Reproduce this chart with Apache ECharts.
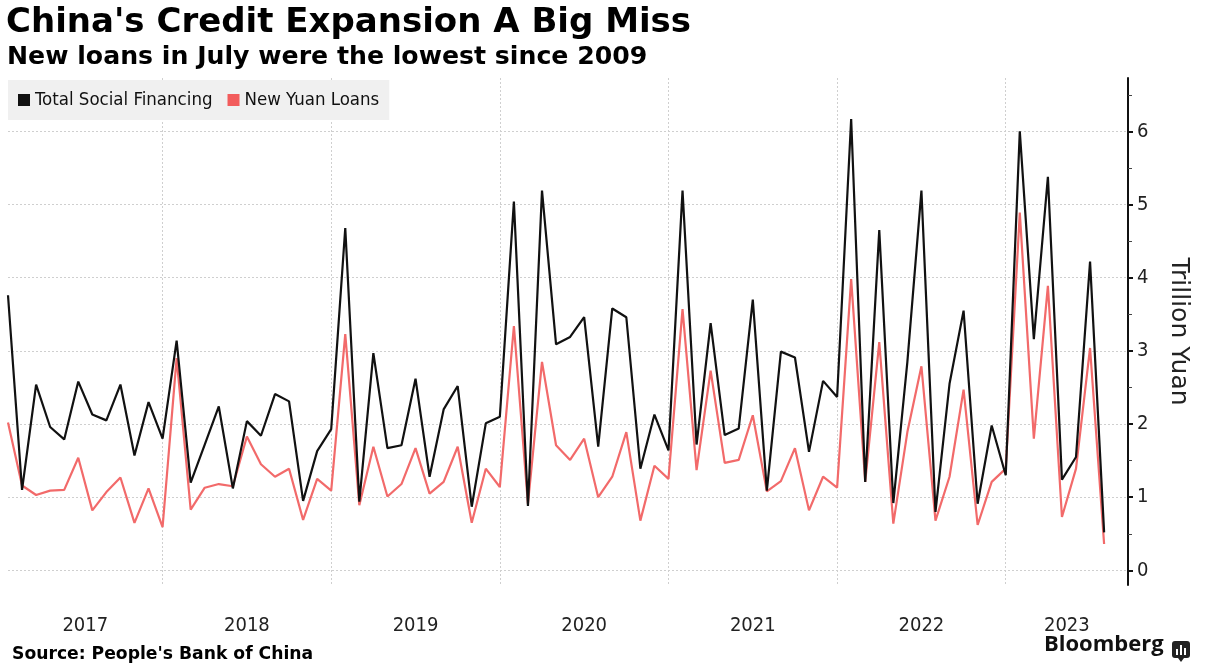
<!DOCTYPE html>
<html><head><meta charset="utf-8">
<script src="https://cdn.jsdelivr.net/npm/echarts@6/dist/echarts.min.js"></script>
<style>html,body{margin:0;padding:0;background:#fff}#c{width:1206px;height:670px}</style>
</head><body><div id="c"></div>
<script>
// ---- data (monthly, Jan 2017 .. Jul 2023), trillion yuan ----
const startYear = 2017;
const years = ['2017','2018','2019','2020','2021','2022','2023'];
const totalSocialFinancing = [
  3.76,1.10,2.54,1.96,1.79,2.58,2.13,2.05,2.54,1.57,2.30,1.80,
  3.14,1.20,1.72,2.24,1.12,2.04,1.84,2.41,2.31,0.95,1.63,1.93,
  4.68,0.94,2.97,1.67,1.71,2.62,1.28,2.20,2.52,0.87,2.01,2.10,
  5.04,0.88,5.19,3.09,3.19,3.46,1.69,3.58,3.46,1.39,2.13,1.64,
  5.19,1.72,3.38,1.85,1.94,3.70,1.09,2.99,2.91,1.62,2.59,2.37,
  6.17,1.21,4.65,0.92,2.85,5.19,0.80,2.55,3.55,0.91,1.98,1.30,
  6.00,3.16,5.38,1.24,1.55,4.22,0.52
];
const newYuanLoans = [
  2.02,1.16,1.03,1.09,1.10,1.54,0.82,1.07,1.27,0.65,1.12,0.59,
  2.90,0.83,1.13,1.18,1.15,1.83,1.45,1.28,1.39,0.69,1.25,1.09,
  3.23,0.89,1.69,1.01,1.18,1.67,1.05,1.21,1.69,0.65,1.39,1.14,
  3.34,0.91,2.85,1.71,1.51,1.80,1.00,1.28,1.89,0.68,1.43,1.25,
  3.57,1.37,2.73,1.47,1.51,2.12,1.08,1.22,1.67,0.82,1.28,1.13,
  3.98,1.21,3.12,0.64,1.89,2.79,0.68,1.28,2.47,0.62,1.21,1.39,
  4.89,1.80,3.89,0.73,1.39,3.04,0.36
];
const yTickValues = [0,1,2,3,4,5,6];
const yMinorTickValues = [0.5,1.5,2.5,3.5,4.5,5.5,6.5];
const seriesNames = ['Total Social Financing','New Yuan Loans'];

// ---- derived ----
const X_MAX = 79.7;
const months = totalSocialFinancing.map((_, i) => (startYear + Math.floor(i / 12)) + '-' + String(i % 12 + 1).padStart(2, '0'));
const yearBoundaries = years.slice(0, -1).map((_, k) => 12 * k + 11);
const yearLabelPos = years.map((_, k) => (Math.max(0, 12 * k - 1) + Math.min(12 * k + 11, X_MAX)) / 2);

const FONT = "'DejaVu Sans Condensed','DejaVu Sans',sans-serif";
const GRID_LEFT = 8, GRID_RIGHT = 78, W = 1206;
const chart = echarts.init(document.getElementById('c'), null, {renderer: 'canvas'});
chart.setOption({
  animation: false,
  backgroundColor: '#fff',
  title: [
    {text: "China's Credit Expansion A Big Miss", left: 6, top: 3, padding: 0,
     textStyle: {fontFamily: 'DejaVu Sans', fontWeight: 'bold', fontSize: 34, lineHeight: 40, color: '#000'}},
    {text: 'New loans in July were the lowest since 2009', left: 7, top: 42, padding: 0,
     textStyle: {fontFamily: 'DejaVu Sans', fontWeight: 'bold', fontSize: 25.2, lineHeight: 30, color: '#000'}},
    {text: "Source: People's Bank of China", left: 12, top: 645, padding: 0,
     textStyle: {fontFamily: 'DejaVu Sans', fontWeight: 'bold', fontSize: 17.2, lineHeight: 20, color: '#000'}}
  ],
  legend: {
    data: seriesNames, left: 8, top: 80, orient: 'horizontal',
    backgroundColor: '#f0f0f0', padding: [10, 10, 10, 10],
    icon: 'rect', itemWidth: 12, itemHeight: 12, itemGap: 15,
    textStyle: {fontFamily: FONT, fontSize: 18.5, lineHeight: 20, color: '#111'}
  },
  grid: {left: GRID_LEFT, right: GRID_RIGHT, top: 78, bottom: 85, containLabel: false},
  xAxis: {
    type: 'value', min: 0, max: X_MAX,
    axisLine: {show: false, onZero: false},
    axisTick: {show: false, customValues: yearBoundaries},
    splitLine: {show: true, lineStyle: {color: '#cfcfcf', type: [2, 2], width: 1}},
    axisLabel: {
      customValues: yearLabelPos, margin: 31, fontFamily: FONT, fontSize: 20, lineHeight: 20, color: '#222',
      formatter: v => { const k = yearLabelPos.findIndex(p => Math.abs(p - v) < 1e-6); return k >= 0 ? years[k] : ''; }
    }
  },
  yAxis: [
    {
      type: 'value', position: 'right', min: -0.2, max: 6.73,
      axisLine: {show: true, onZero: false, lineStyle: {color: '#111', width: 2}},
      axisTick: {show: true, customValues: yTickValues, length: 5, lineStyle: {color: '#111', width: 2}},
      axisLabel: {customValues: yTickValues, margin: 9, fontFamily: FONT, fontSize: 20, color: '#222'},
      splitLine: {show: true, lineStyle: {color: '#cfcfcf', type: [2, 2], width: 1}},
      name: 'Trillion Yuan', nameLocation: 'middle', nameRotate: -90, nameGap: 38,
      nameTextStyle: {fontFamily: 'DejaVu Sans', fontSize: 25, color: '#222'}
    },
    {
      // minor half-unit ticks drawn on the same right-hand axis line
      type: 'value', position: 'left', offset: -(W - GRID_LEFT - GRID_RIGHT), min: -0.2, max: 6.73,
      axisLine: {show: false, onZero: false},
      axisTick: {show: true, inside: true, customValues: yMinorTickValues, length: 4, lineStyle: {color: '#444', width: 1}},
      axisLabel: {show: false},
      splitLine: {show: false}
    }
  ],
  series: [
    {name: seriesNames[0], type: 'line', data: totalSocialFinancing.map((v, i) => [i, v]),
     showSymbol: false, symbol: 'none', lineStyle: {color: '#111', width: 2.2}, itemStyle: {color: '#111'}, z: 3},
    {name: seriesNames[1], type: 'line', data: newYuanLoans.map((v, i) => [i, v]),
     showSymbol: false, symbol: 'none', lineStyle: {color: '#f26a6a', width: 2.2}, itemStyle: {color: '#f25c5c'}, z: 2}
  ],
  graphic: [
    {type: 'text', left: 1044, top: 634, style: {text: 'Bloomberg', font: "bold 22px 'Open Sans', Roboto, sans-serif", fill: '#111'}},
    {type: 'group', left: 1172, top: 641, children: [
      {type: 'rect', shape: {x: 0, y: 0, width: 18, height: 17, r: 3}, style: {fill: '#222'}},
      {type: 'polygon', shape: {points: [[6, 17], [12, 17], [9, 21]]}, style: {fill: '#222'}},
      {type: 'rect', shape: {x: 4, y: 8, width: 2, height: 6}, style: {fill: '#fff'}},
      {type: 'rect', shape: {x: 8, y: 4, width: 2, height: 10}, style: {fill: '#fff'}},
      {type: 'rect', shape: {x: 12, y: 7, width: 2, height: 7}, style: {fill: '#fff'}}
    ]}
  ]
});
</script></body></html>
